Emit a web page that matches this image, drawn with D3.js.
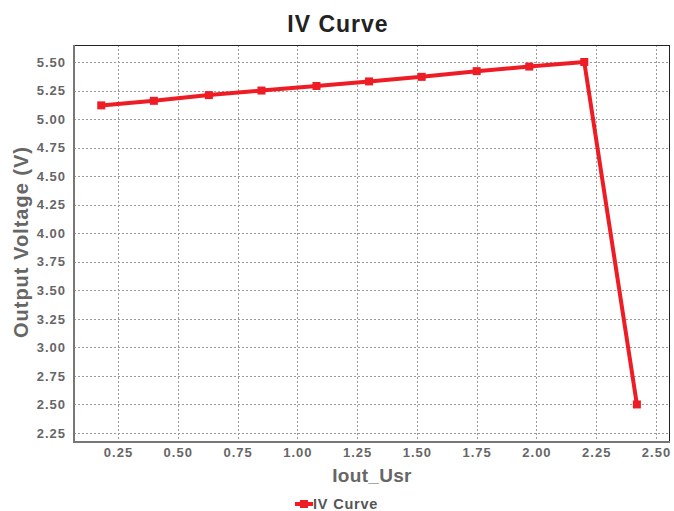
<!DOCTYPE html>
<html>
<head>
<meta charset="utf-8">
<script src="https://cdn.jsdelivr.net/npm/d3@7"></script>
<style>
  html, body { margin: 0; padding: 0; background: #fff; }
  svg { display: block; font-family: "Liberation Sans", Arial, sans-serif; }
</style>
</head>
<body>
<svg id="chart" width="674" height="511"></svg>
<script>
// IV curve measurements: output current vs output voltage
const currents = [0.18, 0.40, 0.63, 0.85, 1.08, 1.30, 1.52, 1.75, 1.97, 2.20, 2.42];
const voltages = [5.12, 5.16, 5.21, 5.25, 5.29, 5.33, 5.37, 5.42, 5.46, 5.50, 2.50];
const xTicks = [0.25, 0.50, 0.75, 1.00, 1.25, 1.50, 1.75, 2.00, 2.25, 2.50];
const yTicks = [2.25, 2.50, 2.75, 3.00, 3.25, 3.50, 3.75, 4.00, 4.25, 4.50, 4.75, 5.00, 5.25, 5.50];
const seriesName = "IV Curve";

const svg = d3.select("#chart");
const plot = { left: 74, right: 670, top: 45, bottom: 442 };

const x = d3.scaleLinear().domain([0.066, 2.5585]).range([plot.left, plot.right]);
const y = d3.scaleLinear().domain([2.171, 5.649]).range([plot.bottom, plot.top]);

const red = "#ee1c25";
const tickColor = "#666";

// Grid lines
const grid = svg.append("g");
grid.selectAll("line.vx").data(xTicks).join("line")
  .attr("x1", d => Math.round(x(d)) + 0.5).attr("x2", d => Math.round(x(d)) + 0.5)
  .attr("y1", plot.top).attr("y2", plot.bottom)
  .attr("stroke", "#9a9a9a").attr("stroke-width", 1).attr("stroke-dasharray", "2,2");
grid.selectAll("line.hy").data(yTicks).join("line")
  .attr("y1", d => Math.round(y(d)) + 0.5).attr("y2", d => Math.round(y(d)) + 0.5)
  .attr("x1", plot.left).attr("x2", plot.right)
  .attr("stroke", "#9a9a9a").attr("stroke-width", 1).attr("stroke-dasharray", "2,2");

// Plot frame: thin dark top/right, heavier grey left/bottom
svg.append("line").attr("x1", plot.left).attr("x2", plot.right).attr("y1", plot.top + 0.5).attr("y2", plot.top + 0.5)
  .attr("stroke", "#222").attr("stroke-width", 1);
svg.append("line").attr("x1", plot.right - 0.5).attr("x2", plot.right - 0.5).attr("y1", plot.top).attr("y2", plot.bottom)
  .attr("stroke", "#222").attr("stroke-width", 1);
svg.append("line").attr("x1", plot.left).attr("x2", plot.left).attr("y1", plot.top).attr("y2", plot.bottom + 1)
  .attr("stroke", "#777").attr("stroke-width", 2);
svg.append("line").attr("x1", plot.left).attr("x2", plot.right).attr("y1", plot.bottom).attr("y2", plot.bottom)
  .attr("stroke", "#777").attr("stroke-width", 2);

// Axes (labels only; ticks hidden)
const styleTicks = sel => sel.selectAll("text")
  .attr("fill", tickColor).attr("font-size", 13).attr("font-weight", "bold")
  .attr("font-family", "Liberation Sans, Arial, sans-serif").attr("letter-spacing", "1px");

const xAxis = d3.axisBottom(x).tickValues(xTicks).tickFormat(d3.format(".2f")).tickSize(0).tickPadding(0);
const gx = svg.append("g").attr("transform", `translate(0,${plot.bottom + 6})`).call(xAxis);
gx.select(".domain").remove();
styleTicks(gx);

const yAxis = d3.axisLeft(y).tickValues(yTicks).tickFormat(d3.format(".2f")).tickSize(0).tickPadding(0);
const gy = svg.append("g").attr("transform", `translate(${plot.left - 8},0)`).call(yAxis);
gy.select(".domain").remove();
styleTicks(gy);

// Series line and markers
const pts = currents.map((c, i) => [c, voltages[i]]);
const line = d3.line().x(d => x(d[0])).y(d => y(d[1]));
svg.append("path").datum(pts).attr("d", line)
  .attr("fill", "none").attr("stroke", red).attr("stroke-width", 4).attr("stroke-linejoin", "round");
svg.selectAll("rect.pt").data(pts).join("rect")
  .attr("x", d => x(d[0]) - 4).attr("y", d => y(d[1]) - 4)
  .attr("width", 8).attr("height", 8).attr("fill", red);

// Titles
svg.append("text").attr("x", 338).attr("y", 32).attr("text-anchor", "middle")
  .attr("font-size", 23).attr("font-weight", "bold").attr("letter-spacing", "1px")
  .attr("fill", "#222").text("IV Curve");
svg.append("text").attr("x", (plot.left + plot.right) / 2).attr("y", 482).attr("text-anchor", "middle")
  .attr("font-size", 19).attr("font-weight", "bold").attr("letter-spacing", "0.3px")
  .attr("fill", "#666").text("Iout_Usr");
svg.append("text").attr("transform", "translate(28,242) rotate(-90)")
  .attr("text-anchor", "middle").attr("font-size", 20).attr("font-weight", "bold")
  .attr("letter-spacing", "1px").attr("fill", "#666")
  .text("Output Voltage (V)");

// Legend
const lg = svg.append("g").attr("transform", "translate(295,504)");
lg.append("line").attr("x1", 0).attr("x2", 18).attr("y1", 0).attr("y2", 0).attr("stroke", red).attr("stroke-width", 4);
lg.append("rect").attr("x", 5).attr("y", -4).attr("width", 8).attr("height", 8).attr("fill", red);
lg.append("text").attr("x", 18).attr("y", 5).attr("font-size", 14.5).attr("font-weight", "bold")
  .attr("letter-spacing", "0.8px").attr("fill", "#555").text(seriesName);
</script>
</body>
</html>
